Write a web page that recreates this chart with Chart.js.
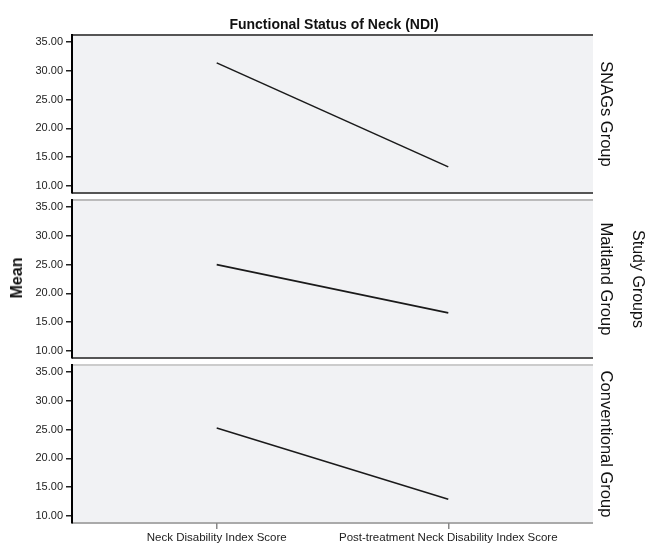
<!DOCTYPE html>
<html>
<head>
<meta charset="utf-8">
<script src="https://cdn.jsdelivr.net/npm/chart.js@4"></script>
<style>
  body { margin: 0; background: #fff; }
  #wrap { position: relative; width: 647px; height: 546px; font-family: "Liberation Sans", Arial, sans-serif; color: #111; }
  #wrap canvas { position: absolute; left: 0; top: 0; }
  .lbl { position: absolute; transform: translate(-50%, -50%); white-space: nowrap; }
  .vert { writing-mode: vertical-rl; font-size: 16.5px; }
</style>
</head>
<body>
<div id="wrap">
  <canvas id="p1" width="647" height="546"></canvas>
  <canvas id="p2" width="647" height="546"></canvas>
  <canvas id="p3" width="647" height="546"></canvas>
  <div class="lbl" style="left:334px;top:24px;font-size:14px;font-weight:bold;">Functional Status of Neck (NDI)</div>
  <div class="lbl" style="left:17px;top:278px;font-size:16px;font-weight:bold;transform:translate(-50%,-50%) rotate(-90deg);">Mean</div>
  <div class="lbl vert" style="left:606px;top:114px;">SNAGs Group</div>
  <div class="lbl vert" style="left:606px;top:279px;">Maitland Group</div>
  <div class="lbl vert" style="left:606px;top:444px;">Conventional Group</div>
  <div class="lbl vert" style="left:638px;top:279px;font-size:16px;">Study Groups</div>
</div>
<script>
const categories = ['Neck Disability Index Score', 'Post-treatment Neck Disability Index Score'];
const groups = ['SNAGs Group', 'Maitland Group', 'Conventional Group'];
const snagsMeans = [31.4, 13.3];
const maitlandMeans = [25.0, 16.6];
const conventionalMeans = [25.3, 12.9];
const yTicks = [10, 15, 20, 25, 30, 35];

// panel boxes on the page: top, bottom, top border colour, bottom border colour
const panels = [
  { id: 'p1', values: snagsMeans, top: 35, bottom: 193, topLine: '#555', bottomLine: '#555', showX: false },
  { id: 'p2', values: maitlandMeans, top: 200, bottom: 358, topLine: '#bbb', bottomLine: '#555', showX: false },
  { id: 'p3', values: conventionalMeans, top: 365, bottom: 523, topLine: '#ccc', bottomLine: '#aaa', showX: true }
];

const panelBg = {
  id: 'panelBg',
  beforeDraw(chart, args, opts) {
    const { ctx, chartArea: a } = chart;
    ctx.save();
    ctx.fillStyle = '#f1f2f4';
    ctx.fillRect(a.left, a.top, a.right - a.left, a.bottom - a.top);
    ctx.lineWidth = 2;
    ctx.strokeStyle = opts.topLine;
    ctx.beginPath();
    ctx.moveTo(a.left, a.top);
    ctx.lineTo(a.right, a.top);
    ctx.stroke();
    ctx.strokeStyle = opts.bottomLine;
    ctx.beginPath();
    ctx.moveTo(a.left, a.bottom);
    ctx.lineTo(a.right, a.bottom);
    ctx.stroke();
    ctx.restore();
  }
};

panels.forEach((p, k) => {
  new Chart(document.getElementById(p.id), {
    type: 'line',
    data: {
      datasets: [{
        label: groups[k],
        data: categories.map((c, i) => ({ x: i, y: p.values[i] })),
        borderColor: '#1a1a1a',
        borderWidth: 1.6,
        pointRadius: 0,
        fill: false
      }]
    },
    options: {
      responsive: false,
      animation: false,
      layout: { padding: { top: p.top, bottom: p.showX ? 0 : 546 - p.bottom, left: 0, right: 54 } },
      plugins: {
        legend: { display: false },
        tooltip: { enabled: false },
        panelBg: { topLine: p.topLine, bottomLine: p.bottomLine }
      },
      scales: {
        x: {
          type: 'linear',
          display: p.showX,
          min: -0.625,
          max: 1.625,
          afterBuildTicks: s => { s.ticks = categories.map((c, i) => ({ value: i })); },
          afterFit: s => { s.height = p.showX ? 23 : 0; },
          border: { display: false },
          grid: { drawOnChartArea: false, tickLength: 6, color: '#888', lineWidth: 1.5 },
          ticks: {
            maxRotation: 0,
            autoSkip: false,
            padding: 2,
            color: '#222',
            font: { family: '"Liberation Sans", Arial, sans-serif', size: 11.5 },
            callback: v => categories[v]
          }
        },
        y: {
          type: 'linear',
          min: 8.75,
          max: 36.25,
          afterBuildTicks: s => { s.ticks = yTicks.map(v => ({ value: v })); },
          afterFit: s => { s.width = 72; },
          border: { color: '#000', width: 2 },
          grid: { drawOnChartArea: false, tickLength: 6, color: '#222', lineWidth: 1.5 },
          ticks: {
            padding: 3,
            color: '#222',
            font: { family: '"Liberation Sans", Arial, sans-serif', size: 11 },
            callback: v => v.toFixed(2)
          }
        }
      }
    },
    plugins: [panelBg]
  });
});
</script>
</body>
</html>
